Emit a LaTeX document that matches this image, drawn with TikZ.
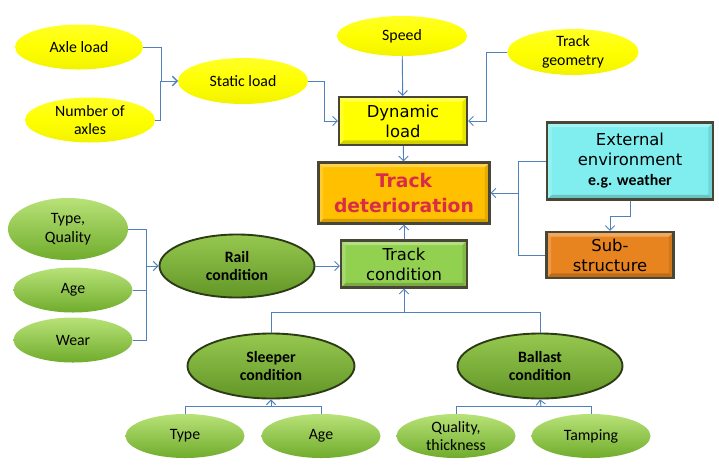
\documentclass[tikz,border=0pt]{standalone}
\usepackage{fontspec}
\setmainfont{Carlito}
\newfontfamily\boxfont{DejaVu Sans}
\usepackage{tikz}
\usetikzlibrary{arrows.meta,shapes.geometric}
\definecolor{linkblue}{RGB}{79,129,189}
\definecolor{boxrim}{RGB}{74,70,54}
\definecolor{dynyellow}{RGB}{255,255,0}
\definecolor{detgold}{RGB}{255,192,0}
\definecolor{detred}{RGB}{218,44,72}
\definecolor{envcyan}{RGB}{128,238,238}
\definecolor{suborange}{RGB}{232,132,32}
\definecolor{trackgreen}{RGB}{146,208,80}
\definecolor{leaftop}{RGB}{184,226,120}
\definecolor{leafbot}{RGB}{112,172,44}
\definecolor{condtop}{RGB}{150,200,80}
\definecolor{condbot}{RGB}{98,150,38}
\definecolor{condrim}{RGB}{44,58,22}
\tikzset{
  nodesize/.style 2 args={
    minimum width=#1*0.03cm,
    minimum height=#2*0.03cm
  },
  bevel/.style={
    path picture={
      \fill[white,opacity=.30] (path picture bounding box.north west) -- (path picture bounding box.north east)
        -- ([shift={(-4pt,-4pt)}]path picture bounding box.north east) -- ([shift={(4pt,-4pt)}]path picture bounding box.north west) -- cycle;
      \fill[white,opacity=.18] (path picture bounding box.north west) -- (path picture bounding box.south west)
        -- ([shift={(4pt,4pt)}]path picture bounding box.south west) -- ([shift={(4pt,-4pt)}]path picture bounding box.north west) -- cycle;
      \fill[black,opacity=.18] (path picture bounding box.south west) -- (path picture bounding box.south east)
        -- ([shift={(-4pt,4pt)}]path picture bounding box.south east) -- ([shift={(4pt,4pt)}]path picture bounding box.south west) -- cycle;
      \fill[black,opacity=.10] (path picture bounding box.north east) -- (path picture bounding box.south east)
        -- ([shift={(-4pt,4pt)}]path picture bounding box.south east) -- ([shift={(-4pt,-4pt)}]path picture bounding box.north east) -- cycle;
    }
  },
  loadoval/.style={
    ellipse,
    inner sep=0pt,
    align=center,
    top color=yellow!85!white,
    bottom color=yellow!95!black,
    middle color=yellow,
    font=\fontsize{13.5}{16}\selectfont
  },
  leafoval/.style={
    ellipse,
    inner sep=0pt,
    align=center,
    top color=leaftop,
    bottom color=leafbot,
    font=\fontsize{13.5}{16}\selectfont
  },
  condoval/.style={
    ellipse,
    draw=condrim,
    line width=1.6pt,
    inner sep=0pt,
    align=center,
    top color=condtop,
    bottom color=condbot,
    font=\bfseries\fontsize{13.5}{16}\selectfont
  },
  statebox/.style={
    rectangle,
    draw=boxrim,
    line width=1.8pt,
    inner sep=0pt,
    align=center,
    bevel,
    font=\boxfont\fontsize{14}{17}\selectfont
  },
  linkline/.style={
    draw=linkblue,
    line width=0.8pt
  },
  linkarrow/.style={
    linkline,
    -{Straight Barb[length=4pt,width=8pt]}
  }
}

\begin{document}
\begin{tikzpicture}[x=0.03cm,y=-0.03cm]
\useasboundingbox (0,0) rectangle (719,465);

% loads
\node[loadoval, nodesize={128}{45}] (axle) at (79,47) {Axle load};
\node[loadoval, nodesize={130}{45}] (axles) at (90,120) {Number of\\axles};
\node[loadoval, nodesize={130}{46}] (static) at (243,81) {Static load};
\node[loadoval, nodesize={130}{40}] (speed) at (402,36) {Speed};
\node[loadoval, nodesize={131}{45}] (geom) at (573,52) {Track\\geometry};

% central boxes
\node[statebox, fill=dynyellow, nodesize={128}{48}] (dyn) at (403,121) {Dynamic\\load};
\node[statebox, fill=detgold, nodesize={171}{61}, text=detred,
  font=\boxfont\bfseries\fontsize{16}{22}\selectfont] (det) at (404,193) {Track\\deterioration};
\node[statebox, fill=envcyan, nodesize={166}{77}] (env) at (630,161)
  {External\\environment\\{\normalfont\bfseries\fontsize{13.5}{16}\selectfont e.g. weather}};
\node[statebox, fill=suborange, nodesize={127}{46}] (sub) at (610,255) {Sub-\\structure};
\node[statebox, fill=trackgreen, nodesize={126}{47}] (track) at (404,264) {Track\\condition};

% rail
\node[condoval, nodesize={155}{63}] (rail) at (237,266) {Rail\\condition};
\node[leafoval, nodesize={120}{62}] (railtype) at (68,229) {Type,\\Quality};
\node[leafoval, nodesize={119}{45}] (railage) at (73,290) {Age};
\node[leafoval, nodesize={119}{45}] (railwear) at (73,340) {Wear};

% sleeper and ballast
\node[condoval, nodesize={167}{65}] (sleeper) at (271,366) {Sleeper\\condition};
\node[condoval, nodesize={165}{65}] (ballast) at (540,366) {Ballast\\condition};
\node[leafoval, nodesize={119}{44}] (sltype) at (185,436) {Type};
\node[leafoval, nodesize={119}{44}] (slage) at (321,436) {Age};
\node[leafoval, nodesize={119}{44}] (blquality) at (456,436) {Quality,\\thickness};
\node[leafoval, nodesize={119}{44}] (bltamping) at (591,436) {Tamping};

% junction points
\coordinate (envbus) at (518,193);
\coordinate (railbus) at (146,266);
\coordinate (trackbus) at (404,312);
\coordinate (sleeperbus) at (271,406);
\coordinate (ballastbus) at (541,406);

\draw[linkarrow] (axle.east) -- ++(18,0) |- (static.west);
\draw[linkarrow] (axles.east) -- ++(5,0) |- (static.west);
\draw[linkarrow] (static.east) -- ++(16,0) |- (dyn.west);
\draw[linkarrow] (speed) -- (dyn);
\draw[linkarrow] (geom.west) -- ++(-21,0) |- (dyn.east);
\draw[linkarrow] (dyn) -- (det);

\draw[linkline] (env.west) -| (envbus);
\draw[linkline] (sub.west) -| (envbus);
\draw[linkarrow] (envbus) -- (det.east);
\draw[linkarrow] (env.south) -- ++(0,16) -| (sub.north);

\draw[linkarrow] (track) -- (det);
\draw[linkarrow] (rail.east) -- (rail.east -| track.west);

\draw[linkline] (railtype.east) -| (railbus);
\draw[linkline] (railage.east) -| (railbus);
\draw[linkline] (railwear.east) -| (railbus);
\draw[linkarrow] (railbus) -- (rail.west);

\draw[linkline] (sleeper.north) |- (trackbus);
\draw[linkline] (ballast.north) |- (trackbus);
\draw[linkarrow] (trackbus) -- (track.south);

\draw[linkline] (sltype.north) |- (sleeperbus);
\draw[linkline] (slage.north) |- (sleeperbus);
\draw[linkarrow] (sleeperbus) -- (sleeper.south);

\draw[linkline] (blquality.north) |- (ballastbus);
\draw[linkline] (bltamping.north) |- (ballastbus);
\draw[linkarrow] (ballastbus) -- (ballast.south);
\end{tikzpicture}
\end{document}
